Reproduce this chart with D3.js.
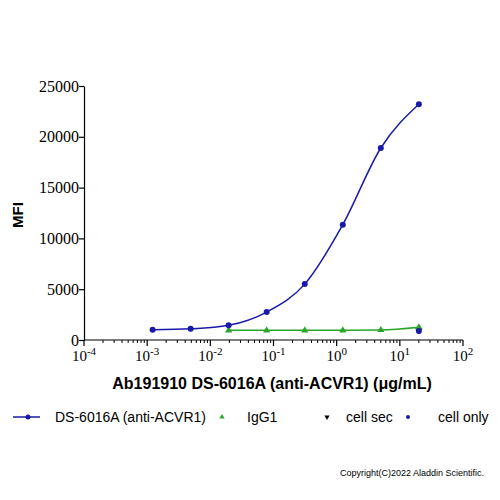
<!DOCTYPE html>
<html>
<head>
<meta charset="utf-8">
<script src="https://cdn.jsdelivr.net/npm/d3@7"></script>
<style>
  body { margin: 0; background: #fff; }
  svg { display: block; }
</style>
</head>
<body>
<svg class="chart"></svg>
<script>
// concentrations (ug/mL), 4-fold dilutions
var concAb = [0.00122, 0.00488, 0.0195, 0.078, 0.3125, 1.25, 5, 20];
var mfiAb = [1000, 1100, 1450, 2750, 5500, 11350, 18900, 23200];
var concIgG = [0.0195, 0.078, 0.3125, 1.25, 5, 20];
var mfiIgG = [950, 950, 950, 950, 980, 1250];
var concSec = [20];
var mfiSec = [950];
var concCell = [20];
var mfiCell = [880];
var xTickExp = [-4, -3, -2, -1, 0, 1, 2];
var yTicks = [0, 5000, 10000, 15000, 20000, 25000];
var legendNames = ["DS-6016A (anti-ACVR1)", "IgG1", "cell sec", "cell only"];

function show() {
    'use strict';
    var margin = {top: 86, left: 84},
        width = 379,
        height = 254;

    var svg = d3.select(".chart").attr("width", 500).attr("height", 500);
    var g = svg.append("g").attr("transform", "translate(" + margin.left + "," + margin.top + ")");

    var x = d3.scaleLog().domain([1e-4, 1e2]).range([0, width]);
    var y = d3.scaleLinear().domain([0, 25000]).range([height, 0]);

    var blue = "#1a1aa8", green = "#2aa52a";

    // y axis
    var yAxis = g.append("g")
        .call(d3.axisLeft(y).tickValues(yTicks).tickSize(5).tickSizeOuter(0).tickFormat(d3.format("d")));
    yAxis.selectAll("text").attr("font-family", "Liberation Serif, serif").attr("font-size", 16).attr("fill", "#000").attr("x", -5);
    yAxis.selectAll("line, path").attr("stroke", "#000").attr("stroke-width", 1.2);

    // x axis: major + minor ticks
    var xa = g.append("g").attr("transform", "translate(0," + height + ")");
    xa.append("line").attr("x1", 0).attr("x2", width).attr("stroke", "#000").attr("stroke-width", 1.2);
    var minors = [];
    xTickExp.slice(0, -1).forEach(function(e) {
        for (var k = 2; k < 10; k++) minors.push(k * Math.pow(10, e));
    });
    xa.selectAll(".minor").data(minors).enter().append("line")
        .attr("x1", function(d) { return x(d); }).attr("x2", function(d) { return x(d); })
        .attr("y1", 0).attr("y2", 3).attr("stroke", "#000").attr("stroke-width", 1);
    xa.selectAll(".major").data(xTickExp).enter().append("line")
        .attr("x1", function(d) { return x(Math.pow(10, d)); }).attr("x2", function(d) { return x(Math.pow(10, d)); })
        .attr("y1", 0).attr("y2", 6).attr("stroke", "#000").attr("stroke-width", 1.2);
    var lab = xa.selectAll(".lab").data(xTickExp).enter().append("text")
        .attr("x", function(d) { return x(Math.pow(10, d)); })
        .attr("y", 21).attr("text-anchor", "middle")
        .attr("font-family", "Liberation Serif, serif").attr("font-size", 15);
    lab.append("tspan").text("10");
    lab.append("tspan").attr("dy", -6).attr("font-size", 11).text(function(d) { return d; });

    // curves
    var line = d3.line().curve(d3.curveMonotoneX)
        .x(function(d) { return x(d[0]); }).y(function(d) { return y(d[1]); });
    var ab = d3.zip(concAb, mfiAb), igg = d3.zip(concIgG, mfiIgG);
    g.append("path").datum(ab).attr("d", line).attr("fill", "none").attr("stroke", blue).attr("stroke-width", 1.5);
    g.append("path").datum(igg).attr("d", line).attr("fill", "none").attr("stroke", green).attr("stroke-width", 1.5);

    var tri = d3.symbol().type(d3.symbolTriangle).size(22);
    g.selectAll(".sec").data(d3.zip(concSec, mfiSec)).enter().append("path")
        .attr("d", tri).attr("fill", "#000")
        .attr("transform", function(d) { return "translate(" + x(d[0]) + "," + y(d[1]) + ") rotate(180)"; });
    g.selectAll(".igg").data(igg).enter().append("path")
        .attr("d", tri).attr("fill", green)
        .attr("transform", function(d) { return "translate(" + x(d[0]) + "," + y(d[1]) + ")"; });
    g.selectAll(".cell").data(d3.zip(concCell, mfiCell)).enter().append("circle")
        .attr("cx", function(d) { return x(d[0]); }).attr("cy", function(d) { return y(d[1]); })
        .attr("r", 3).attr("fill", blue);
    g.selectAll(".ab").data(ab).enter().append("circle")
        .attr("cx", function(d) { return x(d[0]); }).attr("cy", function(d) { return y(d[1]); })
        .attr("r", 3).attr("fill", blue);

    // titles
    svg.append("text").attr("x", 272).attr("y", 389).attr("text-anchor", "middle")
        .attr("font-family", "Liberation Sans, Arial, sans-serif").attr("font-weight", "bold").attr("font-size", 16)
        .text("Ab191910 DS-6016A (anti-ACVR1) (\u03bcg/mL)");
    svg.append("text").attr("transform", "translate(23,215) rotate(-90)").attr("text-anchor", "middle")
        .attr("font-family", "Liberation Sans, Arial, sans-serif").attr("font-weight", "bold").attr("font-size", 15)
        .text("MFI");

    // legend
    var ly = 417;
    var lg = svg.append("g").attr("font-family", "Liberation Sans, Arial, sans-serif").attr("font-size", 14);
    lg.append("line").attr("x1", 13).attr("x2", 40).attr("y1", ly).attr("y2", ly).attr("stroke", blue).attr("stroke-width", 1.5);
    lg.append("circle").attr("cx", 28).attr("cy", ly).attr("r", 2.5).attr("fill", blue);
    lg.append("text").attr("x", 55).attr("y", ly + 5).text(legendNames[0]);
    lg.append("path").attr("d", d3.symbol().type(d3.symbolTriangle).size(12)).attr("fill", green)
        .attr("transform", "translate(222," + ly + ")");
    lg.append("text").attr("x", 247).attr("y", ly + 5).text(legendNames[1]);
    lg.append("path").attr("d", d3.symbol().type(d3.symbolTriangle).size(12)).attr("fill", "#000")
        .attr("transform", "translate(327," + ly + ") rotate(180)");
    lg.append("text").attr("x", 346).attr("y", ly + 5).text(legendNames[2]);
    lg.append("circle").attr("cx", 408).attr("cy", ly).attr("r", 2).attr("fill", blue);
    lg.append("text").attr("x", 438).attr("y", ly + 5).text(legendNames[3]);

    svg.append("text").attr("x", 340).attr("y", 476)
        .attr("font-family", "Liberation Sans, Arial, sans-serif").attr("font-size", 9)
        .text("Copyright(C)2022 Aladdin Scientific.");
}
show();
</script>
</body>
</html>
